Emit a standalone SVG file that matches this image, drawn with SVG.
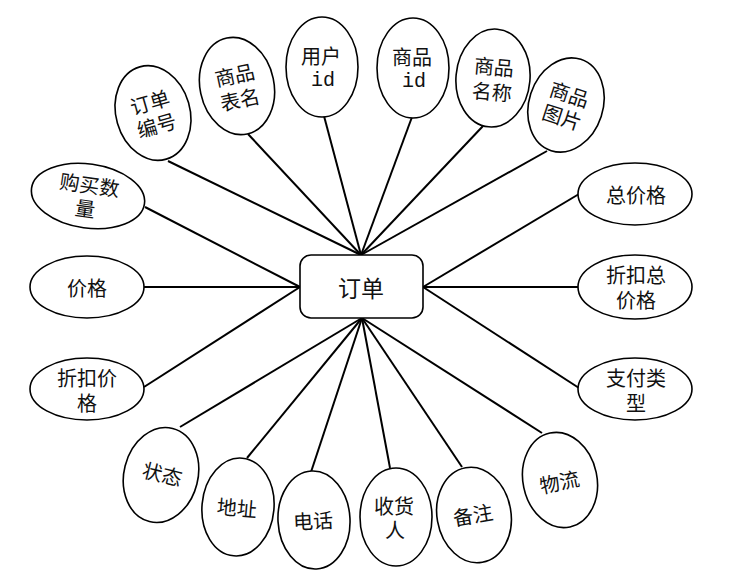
<svg xmlns="http://www.w3.org/2000/svg" width="752" height="582" viewBox="0 0 752 582">
<style>
.e{fill:#fff;stroke:#000;stroke-width:1.6}
.t{font-family:"Noto Sans CJK SC","Liberation Sans",sans-serif;font-size:20px;fill:#111;text-anchor:middle;dominant-baseline:central}
.m{font-family:"Liberation Mono",monospace;font-size:20px;fill:#111;text-anchor:middle;dominant-baseline:central}
.c{stroke:#000;stroke-width:2;fill:none}
</style>
<rect width="752" height="582" fill="#fff"/>
<g id="connectors">
<line class="c" x1="168" y1="161" x2="361" y2="255"/>
<line class="c" x1="248" y1="134" x2="361" y2="255"/>
<line class="c" x1="324" y1="116" x2="361" y2="255"/>
<line class="c" x1="412" y1="117" x2="361" y2="255"/>
<line class="c" x1="483" y1="126" x2="361" y2="255"/>
<line class="c" x1="547" y1="151" x2="361" y2="255"/>
<line class="c" x1="579" y1="194" x2="423" y2="287"/>
<line class="c" x1="579" y1="287" x2="423" y2="287"/>
<line class="c" x1="579" y1="388" x2="423" y2="287"/>
<line class="c" x1="542" y1="433" x2="362" y2="318"/>
<line class="c" x1="462" y1="467" x2="362" y2="318"/>
<line class="c" x1="390" y1="468" x2="362" y2="318"/>
<line class="c" x1="311" y1="472" x2="362" y2="318"/>
<line class="c" x1="247" y1="458" x2="362" y2="318"/>
<line class="c" x1="180" y1="427" x2="362" y2="318"/>
<line class="c" x1="144" y1="387" x2="300" y2="287"/>
<line class="c" x1="144" y1="287" x2="300" y2="287"/>
<line class="c" x1="145" y1="207" x2="300" y2="287"/>
</g>
<g id="order">
<rect x="300" y="255" width="123" height="63" rx="11" fill="#fff" stroke="#000" stroke-width="1.6"/>
<text class="t" x="361" y="287" style="font-size:23px">订单</text>
</g>
<g id="a1" transform="rotate(-16 153 113)">
<ellipse class="e" cx="153" cy="113" rx="37" ry="48"/>
<text class="t" x="153" y="101">订单</text>
<text class="t" x="153" y="125">编号</text>
</g>
<g id="a2" transform="rotate(-12 237 86)">
<ellipse class="e" cx="237" cy="86" rx="37" ry="49"/>
<text class="t" x="237" y="74">商品</text>
<text class="t" x="237" y="99">表名</text>
</g>
<g id="a3">
<ellipse class="e" cx="322" cy="67" rx="36" ry="50"/>
<text class="t" x="321" y="55">用户</text>
<text class="m" x="323" y="80">id</text>
</g>
<g id="a4">
<ellipse class="e" cx="413" cy="68" rx="36" ry="50"/>
<text class="t" x="412" y="56">商品</text>
<text class="m" x="414" y="81">id</text>
</g>
<g id="a5" transform="rotate(5 493 78)">
<ellipse class="e" cx="493" cy="78" rx="37" ry="49"/>
<text class="t" x="493" y="66">商品</text>
<text class="t" x="493" y="91">名称</text>
</g>
<g id="a6" transform="rotate(18 566 105)">
<ellipse class="e" cx="566" cy="105" rx="37" ry="48"/>
<text class="t" x="566" y="93">商品</text>
<text class="t" x="566" y="117">图片</text>
</g>
<g id="a7">
<ellipse class="e" cx="635" cy="194" rx="57" ry="31"/>
<text class="t" x="636" y="194">总价格</text>
</g>
<g id="a8">
<ellipse class="e" cx="635" cy="287" rx="57" ry="32"/>
<text class="t" x="636" y="274">折扣总</text>
<text class="t" x="636" y="299">价格</text>
</g>
<g id="a9">
<ellipse class="e" cx="635" cy="389" rx="57" ry="31"/>
<text class="t" x="636" y="377">支付类</text>
<text class="t" x="636" y="402">型</text>
</g>
<g id="a10" transform="rotate(-12 560 480)">
<ellipse class="e" cx="560" cy="480" rx="37" ry="48"/>
<text class="t" x="559" y="481">物流</text>
</g>
<g id="a11" transform="rotate(-10 474 515)">
<ellipse class="e" cx="474" cy="515" rx="37" ry="48"/>
<text class="t" x="473" y="514">备注</text>
</g>
<g id="a12">
<ellipse class="e" cx="396" cy="517" rx="36" ry="49"/>
<text class="t" x="394" y="505">收货</text>
<text class="t" x="395" y="529">人</text>
</g>
<g id="a13" transform="rotate(-3 314 520)">
<ellipse class="e" cx="314" cy="520" rx="36" ry="49"/>
<text class="t" x="313" y="520">电话</text>
</g>
<g id="a14" transform="rotate(5 238 507)">
<ellipse class="e" cx="238" cy="507" rx="36" ry="49"/>
<text class="t" x="237" y="507">地址</text>
</g>
<g id="a15" transform="rotate(14 161 475)">
<ellipse class="e" cx="161" cy="475" rx="37" ry="48"/>
<text class="t" x="162" y="473">状态</text>
</g>
<g id="a16">
<ellipse class="e" cx="87" cy="389" rx="57" ry="31"/>
<text class="t" x="87" y="377">折扣价</text>
<text class="t" x="87" y="402">格</text>
</g>
<g id="a17">
<ellipse class="e" cx="87" cy="287" rx="57" ry="31"/>
<text class="t" x="87" y="287">价格</text>
</g>
<g id="a18" transform="rotate(8 88 196)">
<ellipse class="e" cx="88" cy="196" rx="57" ry="32"/>
<text class="t" x="88" y="184">购买数</text>
<text class="t" x="87" y="208">量</text>
</g>
</svg>
